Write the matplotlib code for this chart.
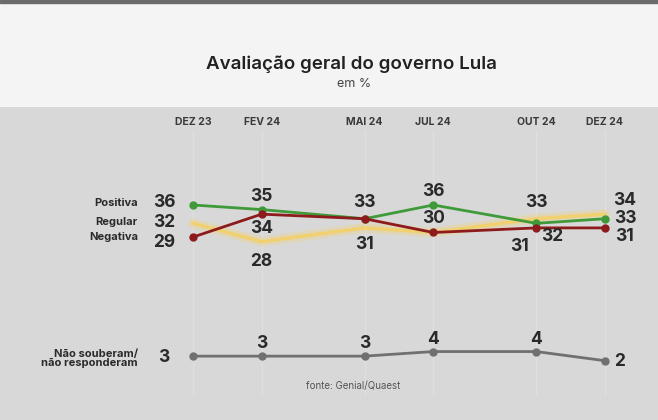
import matplotlib
matplotlib.use('Agg')
import matplotlib.pyplot as plt

plt.rcParams['font.family'] = ['Inter', 'DejaVu Sans']

# survey waves (months since Dec 2023)
months = [0, 2, 5, 7, 10, 12]
month_labels = ['DEZ 23', 'FEV 24', 'MAI 24', 'JUL 24', 'OUT 24', 'DEZ 24']

positiva = [36, 35, 33, 36, 32, 33]
regular = [32, 28, 31, 30, 33, 34]
negativa = [29, 34, 33, 30, 31, 31]
nao_sabe = [3, 3, 3, 4, 4, 2]

# label offsets in pixels for each point (None = no label)
pos_off = [None, (0, 13), (0, 16), (0, 13), (16, -13), (20, 0)]
reg_off = [None, (0, -20), (0, -17), None, (0, 16), (20, 14)]
neg_off = [None, (0, -14), None, (0, 14), (-17, -19), (20, -9)]
ns_off = [None, (0, 13), (0, 13), (0, 12), (0, 12), (15, -1)]

fig = plt.figure(figsize=(6.58, 4.20), dpi=100)
fig.patch.set_facecolor('#f4f4f4')
# dark strip at very top
fig.add_artist(plt.Rectangle((0, 1 - 3 / 420), 1, 3 / 420, transform=fig.transFigure,
                             color='#6b6b6b', zorder=0))

ax = fig.add_axes([0, 0, 1, 313 / 420])
ax.set_facecolor('#d8d8d8')
ax.set_xlim(-193 / 34.33, (658 - 193) / 34.33)
ax.set_ylim(36 - 215 / 4.58, 36 + 98 / 4.58)
ax.axis('off')
ax.add_patch(plt.Rectangle((0, 0), 1, 1, transform=ax.transAxes, color='#d8d8d8', zorder=0))

fig.text(351 / 658, 1 - 64 / 420, 'Avaliação geral do governo Lula', ha='center', va='center',
         fontsize=13.5, fontweight='semibold', color='#222222')
fig.text(354 / 658, 1 - 84 / 420, 'em %', ha='center', va='center', fontsize=9, color='#444444')

ax.vlines(months, 36 - 190 / 4.58, 36 + 75 / 4.58, color='#dfdfdf', lw=1, zorder=1)
for m, lab in zip(months, month_labels):
    ax.annotate(lab, (m, 36 + 83 / 4.58), ha='center', va='center', fontsize=7.5,
                fontweight='bold', color='#3a3a3a')

# lines
ax.plot(months, regular, color='#f5d46c', lw=7, alpha=0.3, zorder=2, solid_capstyle='round')
ax.plot(months, regular, color='#f3d067', lw=2.5, alpha=0.9, zorder=3)
ax.plot(months, positiva, color='#3f9a3a', lw=2, marker='o', ms=5, zorder=4)
ax.plot(months, negativa, color='#8e1b1b', lw=2, marker='o', ms=5, zorder=5)
ax.plot(months, nao_sabe, color='#707070', lw=2, marker='o', ms=5, zorder=4)


def label_series(values, offsets):
    for m, v, off in zip(months, values, offsets):
        if off is None:
            continue
        ax.annotate(str(v), (m, v), xytext=off, textcoords='offset pixels', ha='center',
                    va='center', fontsize=12.5, fontweight='bold', color='#2a2a2a', zorder=6)


label_series(positiva, pos_off)
label_series(regular, reg_off)
label_series(negativa, neg_off)
label_series(nao_sabe, ns_off)

# left-side labels with first values
left = [('Positiva', positiva[0], 2, 2), ('Regular', regular[0], 1, 1),
        ('Negativa', negativa[0], 0, -5), ('Não souberam/\nnão responderam', nao_sabe[0], -2, -1)]
series0 = [positiva[0], regular[0], negativa[0], nao_sabe[0]]
for (name, v, dy_name, dy_num), y0 in zip(left, series0):
    ax.annotate(name, (months[0], y0), xytext=(-55, dy_name), textcoords='offset pixels',
                ha='right', va='center', fontsize=8, fontweight='bold', color='#2a2a2a',
                linespacing=0.9)
    ax.annotate(str(v), (months[0], y0), xytext=(-29, dy_num), textcoords='offset pixels',
                ha='center', va='center', fontsize=12.5, fontweight='bold', color='#2a2a2a')

fig.text(353 / 658, 1 - 386 / 420, 'fonte: Genial/Quaest', ha='center', va='center',
         fontsize=7, color='#555555')

fig.savefig('out.png', dpi=100, facecolor=fig.get_facecolor())
